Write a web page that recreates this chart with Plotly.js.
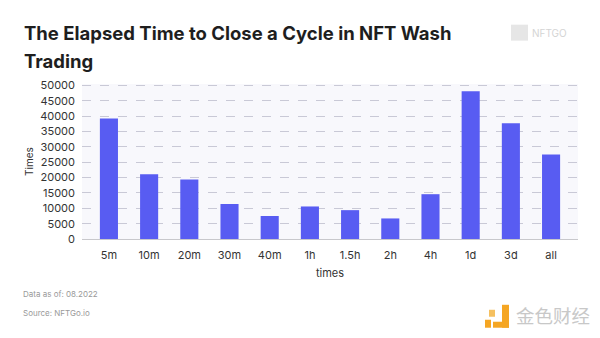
<!DOCTYPE html>
<html>
<head>
<meta charset="utf-8">
<script src="https://cdn.plot.ly/plotly-3.0.1.min.js"></script>
<style>
html,body{margin:0;padding:0;background:#fff;}
#chart{width:600px;height:338px;}
</style>
</head>
<body>
<div id="chart"></div>
<script>
const categories = ["5m","10m","20m","30m","40m","1h","1.5h","2h","4h","1d","3d","all"];
const values = [39300, 21100, 19400, 11400, 7500, 10600, 9400, 6700, 14600, 48100, 37700, 27500];
const yTicks = [0,5000,10000,15000,20000,25000,30000,35000,40000,45000,50000];

const trace = {
  type: "bar",
  x: categories,
  y: values,
  marker: {color: "#585cf2"},
  hoverinfo: "x+y"
};

const plotL = 82, plotR = 22, plotT = 83.5, plotB = 99;
const plotW = 600 - plotL - plotR, plotH = 338 - plotT - plotB;
function px(x){ return (x - plotL) / plotW; }
function py(y){ return (338 - plotB - y) / plotH; }

const layout = {
  width: 600, height: 338,
  margin: {l: plotL, r: plotR, t: plotT, b: plotB, pad: 0},
  paper_bgcolor: "#ffffff",
  plot_bgcolor: "#f8f8fc",
  bargap: 0.55,
  showlegend: false,
  font: {family: "Inter, 'Open Sans', sans-serif", color: "#333"},
  xaxis: {
    type: "category",
    range: [-0.67, 11.67],
    showgrid: false,
    showline: false,
    zeroline: false,
    ticks: "",
    ticklabelstandoff: 8,
    tickfont: {size: 11, color: "#333"},
    title: {text: "times", font: {size: 11, color: "#333"}, standoff: 8}
  },
  yaxis: {
    range: [0, 50500],
    tickvals: yTicks,
    ticktext: yTicks.map(String),
    showgrid: true,
    gridcolor: "#c9c9d6",
    griddash: "dash",
    gridwidth: 1,
    zeroline: true,
    zerolinecolor: "#c8c8cc",
    zerolinewidth: 1,
    showline: false,
    ticks: "",
    ticklabelstandoff: 6,
    tickfont: {size: 11, color: "#333"},
    title: {text: "Times", font: {size: 10, color: "#333"}, standoff: 4}
  },
  annotations: [
    {text: "<b>The Elapsed Time to Close a Cycle in NFT Wash</b>", xref: "paper", yref: "paper",
     x: px(22), y: py(32), xanchor: "left", yanchor: "middle", showarrow: false,
     font: {size: 18.5, color: "#1e1e1e"}},
    {text: "<b>Trading</b>", xref: "paper", yref: "paper",
     x: px(22), y: py(60), xanchor: "left", yanchor: "middle", showarrow: false,
     font: {size: 18.5, color: "#1e1e1e"}},
    {text: "Data as of: 08.2022", xref: "paper", yref: "paper",
     x: px(21), y: py(294), xanchor: "left", yanchor: "middle", showarrow: false,
     font: {size: 8, color: "#999999"}},
    {text: "Source: NFTGo.io", xref: "paper", yref: "paper",
     x: px(21), y: py(313), xanchor: "left", yanchor: "middle", showarrow: false,
     font: {size: 8, color: "#999999"}},
    {text: "NFTGO", xref: "paper", yref: "paper",
     x: px(530), y: py(32), xanchor: "left", yanchor: "middle", showarrow: false,
     font: {size: 10, color: "#d4d4d4"}},
    {text: "金色财经", xref: "paper", yref: "paper",
     x: px(514), y: py(315), xanchor: "left", yanchor: "middle", showarrow: false,
     font: {size: 18.5, color: "#c8c8c8", family: "'Noto Sans CJK SC', sans-serif"}}
  ],
  shapes: [
    {type: "rect", xref: "paper", yref: "paper", x0: px(511), x1: px(528), y0: py(40), y1: py(24),
     fillcolor: "#e6e6e6", line: {width: 0}},
    {type: "rect", xref: "paper", yref: "paper", x0: px(485), x1: px(491), y0: py(328), y1: py(320),
     fillcolor: "#f5a623", line: {width: 0}},
    {type: "rect", xref: "paper", yref: "paper", x0: px(493), x1: px(509), y0: py(328), y1: py(322),
     fillcolor: "#f5a623", line: {width: 0}},
    {type: "rect", xref: "paper", yref: "paper", x0: px(502), x1: px(509), y0: py(328), y1: py(305),
     fillcolor: "#f5a623", line: {width: 0}},
    {type: "rect", xref: "paper", yref: "paper", x0: px(489), x1: px(495), y0: py(317), y1: py(310),
     fillcolor: "#f5c060", line: {width: 0}}
  ]
};

Plotly.newPlot("chart", [trace], layout, {displayModeBar: false, responsive: false});
</script>
</body>
</html>
